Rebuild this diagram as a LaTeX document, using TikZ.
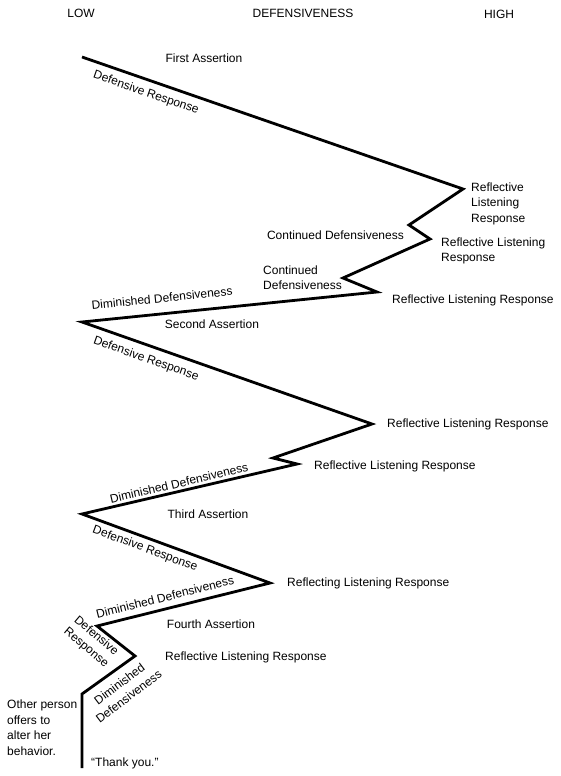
\documentclass[tikz,border=0pt]{standalone}
\usepackage{fontspec}
\setmainfont{Liberation Sans}

\begin{document}
\begin{tikzpicture}[x=1pt, y=-1pt,
    zig/.style={line width=2.8pt, line join=miter},
    lbl/.style={inner sep=0pt, font=\fontsize{12}{15.5}\selectfont},
    stack/.style={lbl, align=left, anchor=west}]
    \useasboundingbox (0,0) rectangle (561,776);

    % Scale
    \node[lbl] (low) at (81,13) {LOW};
    \node[lbl] (defens) at (303,13) {DEFENSIVENESS};
    \node[lbl] (high) at (499,14) {HIGH};

    % Turning points
    \coordinate (v0) at (82,57);    % first assertion
    \coordinate (v1) at (463,189);
    \coordinate (v2) at (409,225);
    \coordinate (v3) at (430,239);
    \coordinate (v4) at (343,278);
    \coordinate (v5) at (377,292);
    \coordinate (v6) at (82,322);   % second assertion
    \coordinate (v7) at (372,424);
    \coordinate (v8) at (273,458);
    \coordinate (v9) at (297,464);
    \coordinate (v10) at (82,514);  % third assertion
    \coordinate (v11) at (270,583);
    \coordinate (v12) at (97,626);  % fourth assertion
    \coordinate (v13) at (135,656);
    \coordinate (v14) at (82,694);
    \coordinate (v15) at (82,768);

    % Course of the talk
    \draw[zig] (v0) -- (v1) -- (v2) -- (v3) -- (v4) -- (v5) -- (v6) -- (v7)
        -- (v8) -- (v9) -- (v10) -- (v11) -- (v12) -- (v13) -- (v14) -- (v15);

    % First round
    \node[lbl] (assert1) at (204,58) {First Assertion};
    \node[lbl, rotate=-19.1] (def1) at (146,93) {Defensive Response};
    \node[stack] (refl1) at (471,203.5) {Reflective\\Listening\\Response};
    \node[lbl, anchor=east] (cont1) at (404,235) {Continued Defensiveness};
    \node[stack] (refl2) at (441,251) {Reflective Listening\\Response};
    \node[stack] (cont2) at (263,277.5) {Continued\\Defensiveness};
    \node[lbl, anchor=west] (refl3) at (392,300) {Reflective Listening Response};
    \node[lbl, rotate=5.8] (dim1) at (162,298) {Diminished Defensiveness};

    % Second round
    \node[lbl] (assert2) at (212,324) {Second Assertion};
    \node[lbl, rotate=-19.4] (def2) at (146,359) {Defensive Response};
    \node[lbl, anchor=west] (refl4) at (387,424) {Reflective Listening Response};
    \node[lbl, anchor=west] (refl5) at (314,466) {Reflective Listening Response};
    \node[lbl, rotate=13.1] (dim2) at (179,483) {Diminished Defensiveness};

    % Third round
    \node[lbl] (assert3) at (208,514) {Third Assertion};
    \node[lbl, rotate=-20.2] (def3) at (145,549) {Defensive Response};
    \node[lbl, anchor=west] (refl6) at (287,583) {Reflecting Listening Response};
    \node[lbl, rotate=14] (dim3) at (165,597) {Diminished Defensiveness};

    % Fourth round
    \node[lbl] (assert4) at (211,624) {Fourth Assertion};
    \node[lbl, align=center, rotate=-40] (def4) at (91,642) {Defensive\\Response};
    \node[lbl, align=center, rotate=37] (dim4) at (124,690) {Diminished\\Defensiveness};
    \node[lbl, anchor=west] (refl7) at (165,657) {Reflective Listening Response};

    % Outcome
    \node[stack] (offer) at (7,727.5) {Other person\\offers to\\alter her\\behavior.};
    \node[lbl, anchor=west] (thanks) at (91,763) {``Thank you.''};
\end{tikzpicture}
\end{document}
